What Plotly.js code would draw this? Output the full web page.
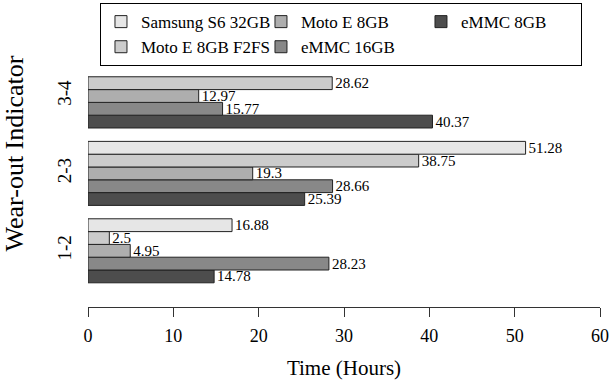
<!DOCTYPE html>
<html>
<head>
<meta charset="utf-8">
<script src="https://cdn.plot.ly/plotly-3.0.1.min.js"></script>
<style>html,body{margin:0;padding:0;background:#fff;}#chart{width:613px;height:386px;}</style>
</head>
<body>
<div id="chart"></div>
<script>
const categories = ['1-2', '2-3', '3-4'];
const seriesNames = ['Samsung S6 32GB', 'Moto E 8GB F2FS', 'Moto E 8GB', 'eMMC 16GB', 'eMMC 8GB'];
const samsungS6 = [16.88, 51.28, null];
const motoEF2FS = [2.5, 38.75, 28.62];
const motoE8 = [4.95, 19.3, 12.97];
const emmc16 = [28.23, 28.66, 15.77];
const emmc8 = [14.78, 25.39, 40.37];
const xTicks = [0, 10, 20, 30, 40, 50, 60];

const seriesValues = [samsungS6, motoEF2FS, motoE8, emmc16, emmc8];
const colors = ['#E6E6E6', '#CCCCCC', '#AEAEAE', '#888888', '#4D4D4D'];
const ranks = [1, 4, 2, 5, 3];
const FONT = 'Liberation Serif, Times New Roman, serif';

const traces = [];
// bottom-to-top within a group: eMMC 8GB first
for (let i = seriesNames.length - 1; i >= 0; i--) {
  const vals = seriesValues[i];
  traces.push({
    type: 'bar',
    orientation: 'h',
    name: seriesNames[i],
    y: categories,
    x: vals,
    text: vals.map(v => v === null ? '' : String(v)),
    textposition: 'outside',
    constraintext: 'none',
    cliponaxis: false,
    textfont: {family: FONT, size: 15, color: '#000'},
    marker: {color: colors[i], line: {color: '#222', width: 1}},
    legendrank: ranks[i],
    hoverinfo: 'x+name'
  });
}

const layout = {
  width: 613, height: 386,
  paper_bgcolor: '#fff', plot_bgcolor: '#fff',
  font: {family: FONT, color: '#000'},
  margin: {l: 88, r: 13, t: 0, b: 79},
  barmode: 'group',
  bargap: 0.173,
  bargroupgap: 0,
  xaxis: {
    range: [0, 60],
    tickvals: xTicks,
    ticktext: xTicks.map(String),
    showgrid: false, zeroline: false,
    showline: true, linecolor: '#333', linewidth: 1,
    ticks: 'outside', ticklen: 9, tickcolor: '#333', tickwidth: 1,
    ticklabelstandoff: 3,
    tickfont: {family: FONT, size: 18, color: '#000'},
    title: {text: 'Time (Hours)', font: {family: FONT, size: 21, color: '#000'}, standoff: 15}
  },
  yaxis: {
    type: 'category',
    categoryorder: 'array', categoryarray: categories,
    range: [-0.726, 3.240],
    showgrid: false, zeroline: false, showline: false, ticks: '',
    tickangle: -90,
    ticklabelstandoff: 12,
    tickfont: {family: FONT, size: 19, color: '#000'},
    title: {text: 'Wear-out Indicator', font: {family: FONT, size: 26, color: '#000'}, standoff: 23}
  },
  showlegend: true,
  legend: {
    orientation: 'h',
    x: 0.0234, xanchor: 'left',
    y: 0.990, yanchor: 'top',
    entrywidth: 115, entrywidthmode: 'pixels',
    bgcolor: '#fff', bordercolor: '#000', borderwidth: 1,
    font: {family: FONT, size: 17, color: '#000'},
    traceorder: 'normal'
  }
};

Plotly.newPlot('chart', traces, layout, {displayModeBar: false, staticPlot: true});
</script>
</body>
</html>
